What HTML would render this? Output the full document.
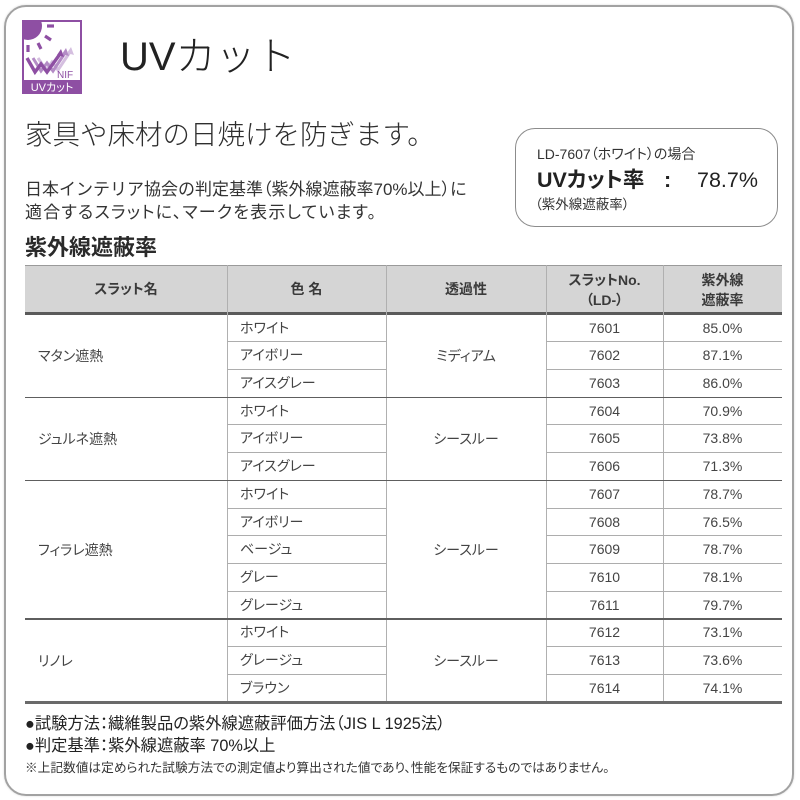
<!DOCTYPE html>
<html><head><meta charset="utf-8">
<style>
html,body{margin:0;padding:0;background:#fff;}
body{width:800px;height:800px;position:relative;overflow:hidden;font-family:"Liberation Sans","Noto Sans CJK JP",sans-serif;color:#3c3c3c;}
.t{position:absolute;white-space:nowrap;}
.palt{font-feature-settings:"palt" 1;}
.frame{position:absolute;left:4px;top:5px;width:786px;height:787px;border:2px solid #a2a2a2;border-radius:22px;box-shadow:0 0 2px rgba(0,0,0,.15);}
.box{position:absolute;left:515px;top:128px;width:261px;height:97px;border:1.5px solid #8c8c8c;border-radius:20px;}
.vl{position:absolute;width:1px;top:265px;height:437px;background:#b0b0b0;}
.row{position:absolute;left:0;width:800px;height:27.7px;line-height:27.7px;font-size:14px;color:#444;}
.c2{position:absolute;left:240px;font-feature-settings:"palt" 1;}
.c4{position:absolute;left:546px;width:117px;text-align:center;}
.c5{position:absolute;left:663px;width:119px;text-align:center;}
.m1{position:absolute;left:38px;height:28px;line-height:28px;font-size:14px;color:#444;font-feature-settings:"palt" 1;white-space:nowrap;}
.m3{position:absolute;left:386px;width:160px;text-align:center;height:28px;line-height:28px;font-size:14px;color:#444;font-feature-settings:"palt" 1;white-space:nowrap;}
.th{position:absolute;text-align:center;font-size:14px;font-weight:bold;color:#3a3a3a;font-feature-settings:"palt" 1;line-height:20px;}
.thin{position:absolute;height:1px;background:#adadad;}
.grp{position:absolute;left:25px;width:757px;height:1.5px;background:#5e5e5e;}
</style></head><body>
<div class="frame"></div>

<!-- logo -->
<svg style="position:absolute;left:22px;top:20px" width="60" height="74" viewBox="0 0 60 74">
  <rect x="0" y="0" width="60" height="74" fill="#8e4fa3"/>
  <rect x="2" y="2" width="56" height="58" fill="#fff"/>
  <clipPath id="cp"><rect x="2" y="2" width="56" height="58"/></clipPath>
  <g clip-path="url(#cp)">
    <circle cx="6" cy="6" r="14" fill="#8e4fa3"/>
  </g>
  <g stroke="#8e4fa3" stroke-width="3.2" stroke-linecap="butt">
    <line x1="25" y1="6" x2="32" y2="6"/>
    <line x1="23" y1="16" x2="29" y2="20"/>
    <line x1="16" y1="23" x2="19" y2="29"/>
    <line x1="6" y1="25" x2="6" y2="32"/>
  </g>
  <polyline points="16,38 24,50 30,42 36,50 48,32" stroke="#d5bfe0" stroke-width="3" fill="none"/>
  <polyline points="11,38 19,51 25,43 31,51 43,33" stroke="#b48cc6" stroke-width="3" fill="none"/>
  <polyline points="5,38 13,52 19,44 25,52 38,34" stroke="#8e4fa3" stroke-width="3.4" fill="none"/>
  <polygon points="39,29 42,37 35,35" fill="#8e4fa3"/>
  <polygon points="44,28 47,36 40,34" fill="#b48cc6"/>
  <polygon points="49,27 52,35 45,33" fill="#d5bfe0"/>
  <text x="35" y="58" font-family="Liberation Sans,sans-serif" font-size="10" fill="#8e4fa3">NIF</text>
  <text x="30" y="71" text-anchor="middle" font-family="Liberation Sans,Noto Sans CJK JP,sans-serif" font-size="11" fill="#fff" style="font-feature-settings:'palt' 1">UVカット</text>
</svg>

<div class="t" style="left:120px;top:37px;font-size:40px;line-height:40px;color:#222;font-weight:300;">UVカット</div>

<div class="t" style="left:25px;top:120px;font-size:27.5px;line-height:30px;color:#2e2e2e;font-weight:300;">家具や床材の日焼けを防ぎます。</div>

<div class="t" style="left:25px;top:178px;font-size:17px;line-height:23px;color:#333;">日本インテリア協会の判定基準<span class="palt">（</span>紫外線遮蔽率70%以上<span class="palt">）</span>に</div>
<div class="t palt" style="left:25px;top:201px;font-size:17px;line-height:23px;color:#333;letter-spacing:1.2px;">適合するスラットに、マークを表示しています。</div>

<div class="box"></div>
<div class="t palt" style="left:537px;top:144px;font-size:14px;line-height:20px;color:#333;">LD-7607（ホワイト）の場合</div>
<div class="t" style="left:537px;top:166px;font-size:21.5px;line-height:28px;color:#222;"><span style="font-weight:bold;font-feature-settings:'palt' 1;">UVカット率</span></div>
<div class="t" style="left:664px;top:166px;font-size:21.5px;line-height:28px;color:#222;font-weight:bold;">:</div>
<div class="t" style="left:697px;top:166px;font-size:21.5px;line-height:28px;color:#222;">78.7%</div>
<div class="t palt" style="left:535px;top:195px;font-size:13.5px;line-height:20px;color:#333;">（紫外線遮蔽率）</div>

<div class="t palt" style="left:25px;top:234px;font-size:22px;line-height:27px;font-weight:bold;color:#2a2a2a;">紫外線遮蔽率</div>

<!-- table header -->
<div style="position:absolute;left:25px;top:265px;width:757px;height:48px;background:#d5d5d5;border-top:1px solid #9a9a9a;box-sizing:border-box;"></div>
<div style="position:absolute;left:25px;top:312px;width:757px;height:2.5px;background:#5a5a5a;"></div>

<div class="vl" style="left:227px"></div>
<div class="vl" style="left:386px"></div>
<div class="vl" style="left:546px"></div>
<div class="vl" style="left:663px"></div>

<div class="th" style="left:25px;width:202px;top:279px;">スラット名</div>
<div class="th" style="left:227px;width:159px;top:279px;">色 名</div>
<div class="th" style="left:386px;width:160px;top:279px;">透過性</div>
<div class="th" style="left:546px;width:117px;top:270px;">スラットNo.<br>（LD-）</div>
<div class="th" style="left:663px;width:119px;top:270px;">紫外線<br>遮蔽率</div>

<!-- thin row lines -->
<div class="thin" style="left:227px;width:159px;top:341px"></div><div class="thin" style="left:546px;width:236px;top:341px"></div>
<div class="thin" style="left:227px;width:159px;top:369px"></div><div class="thin" style="left:546px;width:236px;top:369px"></div>
<div class="thin" style="left:227px;width:159px;top:424px"></div><div class="thin" style="left:546px;width:236px;top:424px"></div>
<div class="thin" style="left:227px;width:159px;top:452px"></div><div class="thin" style="left:546px;width:236px;top:452px"></div>
<div class="thin" style="left:227px;width:159px;top:507.5px"></div><div class="thin" style="left:546px;width:236px;top:507.5px"></div>
<div class="thin" style="left:227px;width:159px;top:535px"></div><div class="thin" style="left:546px;width:236px;top:535px"></div>
<div class="thin" style="left:227px;width:159px;top:563px"></div><div class="thin" style="left:546px;width:236px;top:563px"></div>
<div class="thin" style="left:227px;width:159px;top:590.5px"></div><div class="thin" style="left:546px;width:236px;top:590.5px"></div>
<div class="thin" style="left:227px;width:159px;top:646px"></div><div class="thin" style="left:546px;width:236px;top:646px"></div>
<div class="thin" style="left:227px;width:159px;top:674px"></div><div class="thin" style="left:546px;width:236px;top:674px"></div>

<!-- group lines -->
<div class="grp" style="top:396.5px"></div>
<div class="grp" style="top:479.5px"></div>
<div class="grp" style="top:618px"></div>
<div style="position:absolute;left:25px;top:701px;width:757px;height:2.5px;background:#6a6a6a;"></div>

<!-- merged cells -->
<div class="m1" style="top:341.5px">マタン遮熱</div>
<div class="m1" style="top:424.5px">ジュルネ遮熱</div>
<div class="m1" style="top:535.5px">フィラレ遮熱</div>
<div class="m1" style="top:646.5px">リノレ</div>
<div class="m3" style="top:341.5px">ミディアム</div>
<div class="m3" style="top:424.5px">シースルー</div>
<div class="m3" style="top:535.5px">シースルー</div>
<div class="m3" style="top:646.5px">シースルー</div>

<!-- rows -->
<div class="row" style="top:314.5px"><span class="c2">ホワイト</span><span class="c4">7601</span><span class="c5">85.0%</span></div>
<div class="row" style="top:342.2px"><span class="c2">アイボリー</span><span class="c4">7602</span><span class="c5">87.1%</span></div>
<div class="row" style="top:369.9px"><span class="c2">アイスグレー</span><span class="c4">7603</span><span class="c5">86.0%</span></div>
<div class="row" style="top:397.6px"><span class="c2">ホワイト</span><span class="c4">7604</span><span class="c5">70.9%</span></div>
<div class="row" style="top:425.3px"><span class="c2">アイボリー</span><span class="c4">7605</span><span class="c5">73.8%</span></div>
<div class="row" style="top:453.1px"><span class="c2">アイスグレー</span><span class="c4">7606</span><span class="c5">71.3%</span></div>
<div class="row" style="top:480.8px"><span class="c2">ホワイト</span><span class="c4">7607</span><span class="c5">78.7%</span></div>
<div class="row" style="top:508.5px"><span class="c2">アイボリー</span><span class="c4">7608</span><span class="c5">76.5%</span></div>
<div class="row" style="top:536.2px"><span class="c2">ベージュ</span><span class="c4">7609</span><span class="c5">78.7%</span></div>
<div class="row" style="top:563.9px"><span class="c2">グレー</span><span class="c4">7610</span><span class="c5">78.1%</span></div>
<div class="row" style="top:591.6px"><span class="c2">グレージュ</span><span class="c4">7611</span><span class="c5">79.7%</span></div>
<div class="row" style="top:619.3px"><span class="c2">ホワイト</span><span class="c4">7612</span><span class="c5">73.1%</span></div>
<div class="row" style="top:647px"><span class="c2">グレージュ</span><span class="c4">7613</span><span class="c5">73.6%</span></div>
<div class="row" style="top:674.8px"><span class="c2">ブラウン</span><span class="c4">7614</span><span class="c5">74.1%</span></div>

<!-- footer -->
<div class="t palt" style="left:25px;top:713px;font-size:16.3px;line-height:22px;color:#222;">●試験方法：繊維製品の紫外線遮蔽評価方法（JIS L 1925法）</div>
<div class="t palt" style="left:25px;top:735px;font-size:16.3px;line-height:22px;color:#222;">●判定基準：紫外線遮蔽率 70%以上</div>
<div class="t palt" style="left:25px;top:759px;font-size:12.7px;line-height:18px;color:#333;">※上記数値は定められた試験方法での測定値より算出された値であり、性能を保証するものではありません。</div>

</body></html>
